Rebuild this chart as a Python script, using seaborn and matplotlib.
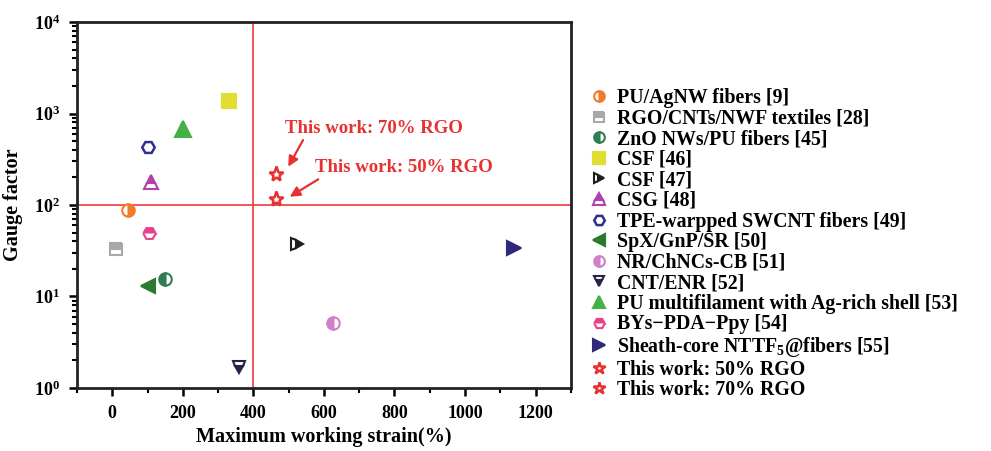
import matplotlib
matplotlib.use("Agg")
import matplotlib.pyplot as plt
import seaborn as sns
import pandas as pd
import numpy as np
from matplotlib.ticker import LogLocator, FixedLocator, NullFormatter

labels = ["PU/AgNW fibers [9]", "RGO/CNTs/NWF textiles [28]", "ZnO NWs/PU fibers [45]",
          "CSF [46]", "CSF [47]", "CSG [48]", "TPE-warpped SWCNT fibers [49]",
          "SpX/GnP/SR [50]", "NR/ChNCs-CB [51]", "CNT/ENR [52]",
          "PU multifilament with Ag-rich shell [53]", "BYs\u2212PDA\u2212Ppy [54]",
          "Sheath-core NTTF$_5$@fibers [55]", "This work: 50% RGO", "This work: 70% RGO"]
strain = [45, 10, 150, 330, 525, 110, 100, 100, 625, 358, 200, 104, 1140, 465, 465]
gauge = [88, 33, 15.4, 1380, 37.5, 180, 430, 13.1, 5.1, 1.71, 680, 50, 34, 115, 218]

markers = ['o', 's', 'o', 's', '>', '^', 'H', '<', 'o', 'v', '^', 'H', '>', '*', '*']
fills = ['right', 'top', 'left', 'full', 'right', 'top', 'none', 'full', 'left', 'bottom',
         'full', 'top', 'full', 'none', 'none']
colors = ['#F07B2A', '#A8A8A8', '#2E7D55', '#E2DE30', '#1E1E1E', '#B040B0', '#2E3090',
          '#2A7A30', '#D080C8', '#2C2048', '#45B045', '#E8408A', '#302878', '#E83030', '#E83030']
sizes = [9, 9, 9, 10, 9, 10, 9, 10, 9, 9, 11, 9, 10, 11, 11]

df = pd.DataFrame({"label": labels, "strain": strain, "gauge": gauge})

plt.rcParams['font.family'] = ['Liberation Serif', 'DejaVu Serif']
plt.rcParams['font.weight'] = 'bold'
plt.rcParams['mathtext.fontset'] = 'custom'
plt.rcParams['mathtext.rm'] = 'Liberation Serif:bold'
plt.rcParams['mathtext.bf'] = 'Liberation Serif:bold'
plt.rcParams['mathtext.it'] = 'Liberation Serif:bold'
plt.rcParams['mathtext.default'] = 'bf'

fig = plt.figure(figsize=(9.91, 4.51), dpi=100)
ax = fig.add_axes([0.0777, 0.1397, 0.4983, 0.8115])

for i, row in df.iterrows():
    fs = fills[i]
    kw = dict(marker=markers[i], linestyle='none', markersize=sizes[i],
              markeredgecolor=colors[i], markeredgewidth=1.5)
    if fs == 'full':
        kw.update(markerfacecolor=colors[i])
    elif fs == 'none':
        kw.update(markerfacecolor='white', markeredgewidth=1.8)
    else:
        kw.update(fillstyle=fs, markerfacecolor=colors[i], markerfacecoloralt='white')
    sns.lineplot(data=df.iloc[[i]], x="strain", y="gauge", ax=ax, label=row["label"],
                 zorder=5, **kw)

ax.set_yscale('log')
ax.set_xlim(-100, 1300)
ax.set_ylim(1, 1e4)
ax.axvline(400, color='#F03a3a', lw=1.2, zorder=2)
ax.axhline(100, color='#F03a3a', lw=1.2, zorder=2)

ax.set_xticks([0, 200, 400, 600, 800, 1000, 1200])
ax.xaxis.set_minor_locator(FixedLocator([-100, 100, 300, 500, 700, 900, 1100, 1300]))
ax.yaxis.set_minor_locator(LogLocator(base=10, subs=np.arange(2, 10), numticks=20))
ax.yaxis.set_minor_formatter(NullFormatter())
ax.set_yticks([1, 10, 100, 1000, 10000])
ax.set_yticklabels([r'$10^0$', r'$10^1$', r'$10^2$', r'$10^3$', r'$10^4$'])
ax.tick_params(axis='both', which='major', direction='out', length=6, width=1.8,
               labelsize=13, pad=6)
ax.tick_params(axis='both', which='minor', direction='out', length=3.5, width=1.5)
ax.tick_params(top=False, right=False, which='both')
for s in ax.spines.values():
    s.set_linewidth(2)
    s.set_color('#222222')
for lab in ax.get_xticklabels():
    lab.set_fontweight('bold')

ax.set_xlabel("Maximum working strain(%)", fontsize=14.5, fontweight='bold', labelpad=4)
ax.set_ylabel("Gauge factor", fontsize=14.5, fontweight='bold', labelpad=8)

red = '#E83030'
ax.text(491, 693, "This work: 70% RGO", fontsize=13.5, fontweight='bold', color=red,
        ha='left', va='center')
ax.annotate("", xy=(499, 262), xytext=(541, 513),
            arrowprops=dict(arrowstyle='-|>,head_length=0.6,head_width=0.3', color=red,
                            lw=1.6, shrinkA=0, shrinkB=0))
ax.text(576, 254, "This work: 50% RGO", fontsize=13.5, fontweight='bold', color=red,
        ha='left', va='center')
ax.annotate("", xy=(503, 123), xytext=(584, 191),
            arrowprops=dict(arrowstyle='-|>,head_length=0.6,head_width=0.3', color=red,
                            lw=1.6, shrinkA=0, shrinkB=0))

leg = ax.legend(loc='upper left', bbox_to_anchor=(0.594, 0.805),
                bbox_transform=fig.transFigure, frameon=False, fontsize=14.3,
                labelspacing=0.03, handletextpad=0.45, handlelength=1.0,
                markerscale=0.85, borderpad=0, borderaxespad=0)
for t in leg.get_texts():
    t.set_fontweight('bold')

fig.savefig("out.png", dpi=100, facecolor='white')
